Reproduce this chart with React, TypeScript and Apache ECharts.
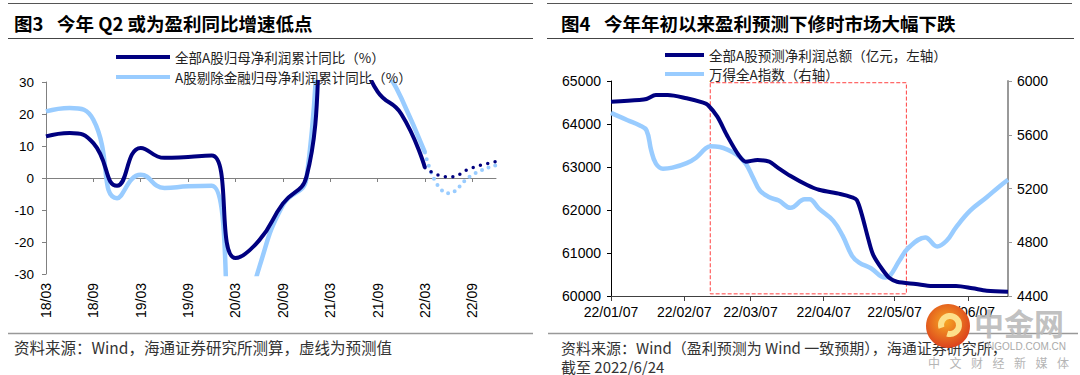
import React, { useEffect, useRef } from 'react';
import * as echarts from 'echarts';

// ---------- Figure 3 data (quarterly cumulative YoY, %) ----------
const quarterLabels = [
  '18/03', '18/06', '18/09', '18/12', '19/03', '19/06', '19/09', '19/12',
  '20/03', '20/06', '20/09', '20/12', '21/03', '21/06', '21/09', '21/12',
  '22/03', '22/06', '22/09', '22/12',
];
const allAActual = [13.0, 14.1, 10.9, -2.4, 9.4, 6.3, 6.6, 7.0, -25.0, -19.5, -8.0, 0.5, 48, 42, 27, 20, 3.2, null, null, null];
const allAForecast = [null, null, null, null, null, null, null, null, null, null, null, null, null, null, null, null, 3.2, 0.3, 3.2, 5.1];
const exFinActual = [20.8, 21.9, 18.2, -6.3, 1.0, -3.1, -2.6, -2.4, -55, -28, -8.5, 0.0, 100, 67, 40, 25, 8.0, null, null, null];
const exFinForecast = [null, null, null, null, null, null, null, null, null, null, null, null, null, null, null, null, 8.0, -4.8, 1.0, 4.0];

// ---------- Figure 4 data ----------
const profitDates = [
  '2022-01-07', '2022-01-19', '2022-01-22', '2022-01-26', '2022-01-31', '2022-02-08', '2022-02-15',
  '2022-02-17', '2022-02-21', '2022-02-25', '2022-03-02', '2022-03-05', '2022-03-10', '2022-03-15',
  '2022-03-18', '2022-03-24', '2022-03-31', '2022-04-05', '2022-04-14', '2022-04-19', '2022-04-21',
  '2022-04-23', '2022-04-26', '2022-04-28', '2022-05-02', '2022-05-05', '2022-05-08', '2022-05-16',
  '2022-05-23', '2022-06-02', '2022-06-09', '2022-06-15', '2022-06-24',
];
const profitValues = [
  64519, 64558, 64581, 64674, 64674, 64597, 64496,
  64442, 64170, 63744, 63279, 63124, 63163, 63124,
  63007, 62790, 62581, 62470, 62372, 62295, 62233,
  61923, 61302, 60953, 60605, 60411, 60333, 60279,
  60233, 60233, 60179, 60124, 60101,
];
const indexDates = [
  '2022-01-07', '2022-01-14', '2022-01-19', '2022-01-22', '2022-01-24', '2022-01-26', '2022-01-29',
  '2022-02-02', '2022-02-08', '2022-02-12', '2022-02-16', '2022-02-18', '2022-02-22', '2022-03-01',
  '2022-03-05', '2022-03-08', '2022-03-11', '2022-03-15', '2022-03-19', '2022-03-24', '2022-03-30',
  '2022-04-01', '2022-04-05', '2022-04-11', '2022-04-15', '2022-04-19', '2022-04-22', '2022-04-27',
  '2022-05-03', '2022-05-05', '2022-05-09', '2022-05-13', '2022-05-20', '2022-05-25', '2022-05-29',
  '2022-06-02', '2022-06-08', '2022-06-15', '2022-06-20', '2022-06-24',
];
const indexValues = [
  5763, 5708, 5671, 5634, 5484, 5385, 5347,
  5355, 5389, 5429, 5497, 5514, 5509, 5454,
  5385, 5285, 5185, 5135, 5110, 5056, 5120,
  5120, 5050, 4961, 4849, 4699, 4649, 4607,
  4537, 4549, 4662, 4761, 4836, 4769, 4811,
  4911, 5035, 5135, 5210, 5265,
];
const dateTicks = ['2022-01-07', '2022-02-07', '2022-03-07', '2022-04-07', '2022-05-07', '2022-06-07'];
const dateRange = ['2022-01-07', '2022-06-24'];
const highlightStart = '2022-02-18';
const highlightEnd = '2022-05-12';
const highlightTop = 64960;
const highlightBottom = 60050;

const NAME_ALLA = '全部A股归母净利润累计同比（%）';
const NAME_EXFIN = 'A股剔除金融归母净利润累计同比（%）';
const NAME_PROFIT = '全部A股预测净利润总额（亿元，左轴）';
const NAME_INDEX = '万得全A指数（右轴）';
const WATERMARK_SUB = ['中', '文', '财', '经', '新', '媒', '体'];

const DARK = '#000080';
const LIGHT = '#99ccff';
const FONT_CJK = '"Noto Sans CJK SC", "Noto Sans", sans-serif';
const FONT_NUM = '"Liberation Sans", Arial, sans-serif';

const DAY = 86400000;
const toTs = (s: string) => {
  const [y, m, d] = s.split('-').map(Number);
  return Date.UTC(y, m - 1, d);
};
const ORIGIN = toTs(dateRange[0]);
// day number counted from the first date of the range
const toDay = (s: string) => Math.round((toTs(s) - ORIGIN) / DAY);
const pad = (n: number) => (n < 10 ? '0' + n : '' + n);
const fmtDay = (v: number) => {
  const d = new Date(ORIGIN + Math.round(v) * DAY);
  return `${String(d.getUTCFullYear()).slice(2)}/${pad(d.getUTCMonth() + 1)}/${pad(d.getUTCDate())}`;
};
const plain = (v: number) => String(v);

const rule = (x1: number, x2: number, y: number, color: string, w: number) => ({
  type: 'line',
  silent: true,
  shape: { x1, y1: y, x2, y2: y },
  style: { stroke: color, lineWidth: w },
});
const text = (x: number, y: number, t: string, size: number, opts: any = {}) => ({
  type: 'text',
  silent: true,
  x,
  y,
  z: opts.z ?? 10,
  style: {
    text: t,
    fill: opts.fill ?? '#000',
    fontSize: size,
    fontFamily: opts.family ?? FONT_CJK,
    fontWeight: opts.weight ?? 'normal',
    textAlign: opts.align ?? 'left',
    textVerticalAlign: 'middle',
    verticalAlign: 'middle',
    opacity: opts.opacity ?? 1,
  },
});

function buildOption(): any {
  const profitData = profitDates.map((d, i) => [toDay(d), profitValues[i]]);
  const indexData = indexDates.map((d, i) => [toDay(d), indexValues[i]]);
  const tickDays = dateTicks.map(toDay);

  const legendCommon = {
    orient: 'vertical',
    icon: 'rect',
    itemHeight: 4,
    selectedMode: false,
    textStyle: { fontSize: 13.5, fontFamily: FONT_CJK, color: '#222', lineHeight: 15 },
  };

  return {
    animation: false,
    backgroundColor: '#fff',
    legend: [
      { ...legendCommon, left: 111, top: 44.5, itemWidth: 54, itemGap: 5, data: [NAME_ALLA, NAME_EXFIN] },
      { ...legendCommon, left: 660, top: 42.5, itemWidth: 39, itemGap: 4, data: [NAME_PROFIT, NAME_INDEX] },
    ],
    grid: [
      { left: 46, right: 584, top: 82, bottom: 101 },
      { left: 611, right: 72, top: 81, bottom: 79 },
    ],
    xAxis: [
      {
        gridIndex: 0,
        type: 'category',
        data: quarterLabels,
        boundaryGap: false,
        position: 'bottom',
        axisLine: { show: false, onZero: false },
        axisTick: { show: false },
        axisLabel: { interval: 1, rotate: 90, fontSize: 14, fontFamily: FONT_NUM, color: '#000', margin: 9 },
        splitLine: { show: false },
      },
      {
        gridIndex: 0,
        type: 'category',
        data: quarterLabels,
        boundaryGap: false,
        position: 'bottom',
        axisLine: { show: true, onZero: true, onZeroAxisIndex: 0, lineStyle: { color: '#808080', width: 1 } },
        axisTick: { show: true, interval: 1, length: 4, lineStyle: { color: '#808080' } },
        axisLabel: { show: false },
        splitLine: { show: false },
      },
      {
        gridIndex: 1,
        type: 'value',
        min: 0,
        max: toDay(dateRange[1]),
        axisLine: { show: true, onZero: false, lineStyle: { color: '#404040', width: 1 } },
        axisTick: { show: true, customValues: tickDays, length: 5, lineStyle: { color: '#404040' } },
        axisLabel: {
          customValues: tickDays,
          formatter: (v: number) => fmtDay(v),
          fontSize: 14,
          fontFamily: FONT_NUM,
          color: '#000',
          margin: 9,
        },
        splitLine: { show: false },
      },
    ],
    yAxis: [
      {
        gridIndex: 0,
        type: 'value',
        min: -30,
        max: 30,
        interval: 10,
        axisLine: { show: true, lineStyle: { color: '#808080' } },
        axisTick: { show: true, length: 4, lineStyle: { color: '#808080' } },
        axisLabel: { fontSize: 13.5, fontFamily: FONT_NUM, color: '#000', margin: 12, formatter: plain },
        splitLine: { show: false },
      },
      {
        gridIndex: 1,
        type: 'value',
        position: 'left',
        min: 60000,
        max: 65000,
        interval: 1000,
        axisLine: { show: true, lineStyle: { color: '#000' } },
        axisTick: { show: true, length: 4, lineStyle: { color: '#000' } },
        axisLabel: { fontSize: 14, fontFamily: FONT_NUM, color: '#000', margin: 10, formatter: plain },
        splitLine: { show: false },
      },
      {
        gridIndex: 1,
        type: 'value',
        position: 'right',
        min: 4400,
        max: 6000,
        interval: 400,
        axisLine: { show: true, lineStyle: { color: '#999', width: 2 } },
        axisTick: { show: true, length: 4, lineStyle: { color: '#999' } },
        axisLabel: { fontSize: 14, fontFamily: FONT_NUM, color: '#000', margin: 9, formatter: plain },
        splitLine: { show: false },
      },
    ],
    series: [
      {
        name: NAME_EXFIN,
        type: 'line',
        xAxisIndex: 0,
        yAxisIndex: 0,
        data: exFinActual,
        smooth: 0.5,
        symbol: 'none',
        color: LIGHT,
        lineStyle: { width: 4.5, color: LIGHT },
        z: 2,
      },
      {
        name: 'exFinForecast',
        type: 'line',
        xAxisIndex: 0,
        yAxisIndex: 0,
        data: exFinForecast,
        smooth: 0.5,
        symbol: 'none',
        color: LIGHT,
        lineStyle: { width: 4, color: LIGHT, type: [0, 7], cap: 'round' },
        z: 2,
      },
      {
        name: NAME_ALLA,
        type: 'line',
        xAxisIndex: 0,
        yAxisIndex: 0,
        data: allAActual,
        smooth: 0.5,
        symbol: 'none',
        color: DARK,
        lineStyle: { width: 4, color: DARK },
        z: 3,
      },
      {
        name: 'allAForecast',
        type: 'line',
        xAxisIndex: 0,
        yAxisIndex: 0,
        data: allAForecast,
        smooth: 0.5,
        symbol: 'none',
        color: DARK,
        lineStyle: { width: 3.5, color: DARK, type: [0, 7.5], cap: 'round' },
        z: 3,
      },
      {
        name: NAME_INDEX,
        type: 'line',
        xAxisIndex: 2,
        yAxisIndex: 2,
        data: indexData,
        smooth: 0.4,
        symbol: 'none',
        color: LIGHT,
        lineStyle: { width: 4.5, color: LIGHT },
        z: 2,
      },
      {
        name: NAME_PROFIT,
        type: 'line',
        xAxisIndex: 2,
        yAxisIndex: 1,
        data: profitData,
        smooth: 0.3,
        symbol: 'none',
        color: DARK,
        lineStyle: { width: 4, color: DARK },
        z: 3,
        markArea: {
          silent: true,
          label: { show: false },
          itemStyle: { color: 'rgba(0,0,0,0)', borderColor: '#ff4040', borderWidth: 1, borderType: [4, 2] },
          data: [[
            { xAxis: toDay(highlightStart), yAxis: highlightTop },
            { xAxis: toDay(highlightEnd), yAxis: highlightBottom },
          ]],
        },
      },
    ],
    graphic: [
      rule(8, 533, 3.5, '#555', 1),
      rule(8, 533, 38.5, '#444', 1),
      rule(8, 533, 333.5, '#999', 1.5),
      rule(547, 1072, 3.5, '#555', 1),
      rule(547, 1074, 38.5, '#444', 1),
      rule(548, 1078, 333.5, '#999', 1.5),
      text(14, 22.5, '图3', 18.5, { weight: 'bold' }),
      text(57, 22.5, '今年 Q2 或为盈利同比增速低点', 18.5, { weight: 'bold' }),
      text(561, 22.5, '图4', 18.5, { weight: 'bold' }),
      text(604, 22.5, '今年年初以来盈利预测下修时市场大幅下跌', 18.5, { weight: 'bold' }),
      text(14, 347, '资料来源：Wind，海通证券研究所测算，虚线为预测值', 15.5, { fill: '#333' }),
      text(561, 347, '资料来源：Wind（盈利预测为 Wind 一致预期），海通证券研究所，', 15, { fill: '#333' }),
      text(561, 366, '截至 2022/6/24', 15, { fill: '#333' }),
      // watermark
      {
        type: 'circle',
        silent: true,
        z: 100,
        shape: { cx: 948, cy: 326, r: 22 },
        style: {
          fill: new echarts.graphic.RadialGradient(0.45, 0.4, 0.7, [
            { offset: 0, color: '#f6a623' },
            { offset: 1, color: '#d8321c' },
          ]),
        },
      },
      {
        type: 'arc',
        silent: true,
        z: 101,
        shape: { cx: 950, cy: 325, r: 9, startAngle: Math.PI * 0.9, endAngle: Math.PI * 2.6 },
        style: { stroke: '#fde08a', lineWidth: 6, fill: 'none' },
      },
      text(974, 322, '中金网', 30, { weight: 'bold', fill: '#b9b9b9', z: 100, opacity: 0.9 }),
      text(1066, 346, 'NGOLD.COM.CN', 10, { fill: '#aaa', align: 'right', family: FONT_NUM, z: 100 }),
      ...WATERMARK_SUB.map((c, i) => text(928 + i * 21.5, 362, c, 12, { fill: '#b5b5b5', z: 100 })),
    ],
  };
}

export default function App() {
  const ref = useRef<HTMLDivElement>(null);
  useEffect(() => {
    document.body.style.margin = '0';
    const chart = echarts.init(ref.current as HTMLDivElement, null, { renderer: 'svg' });
    chart.setOption(buildOption());
    return () => chart.dispose();
  }, []);
  return <div ref={ref} style={{ width: 1080, height: 375, background: '#fff' }} />;
}
